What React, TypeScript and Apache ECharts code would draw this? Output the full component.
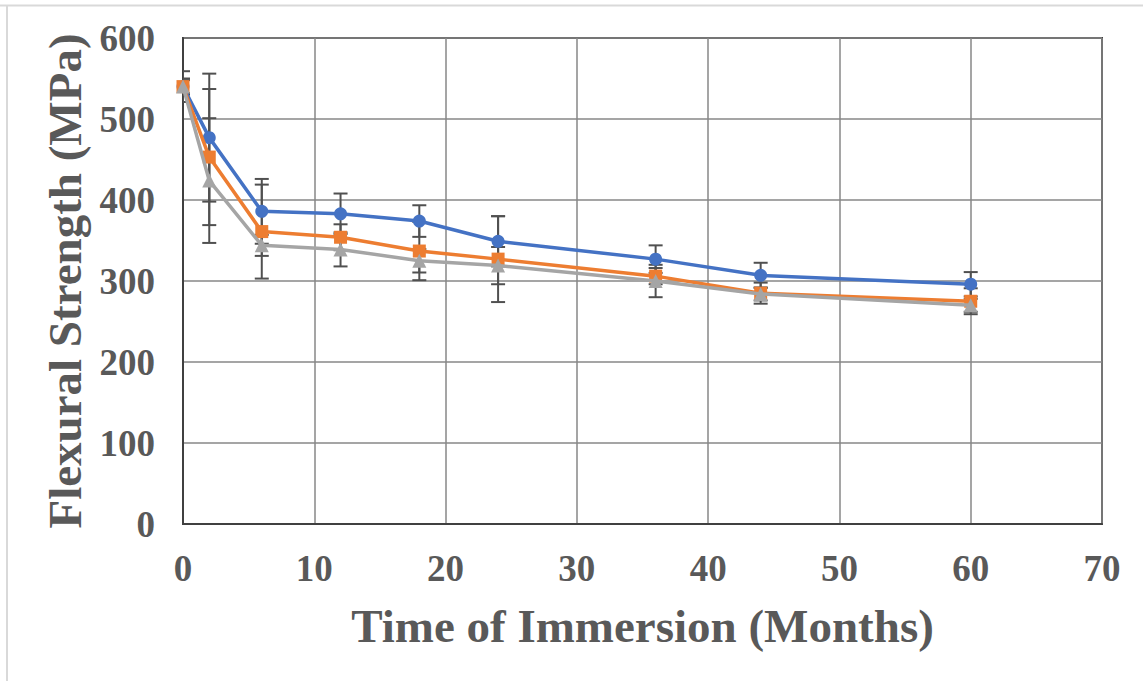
import React, { useEffect, useRef } from "react";
import * as echarts from "echarts";

const months = [0, 2, 6, 12, 18, 24, 36, 44, 60];
const seriesA = [540, 477, 386, 383, 374, 349, 327, 307, 296];
const seriesB = [540, 453, 361, 354, 337, 327, 306, 285, 275];
const seriesC = [540, 424, 344, 339, 325, 319, 300, 284, 270];
const errA = [19, 79, 40, 25, 19.5, 31, 17, 15.5, 15];
const errB = [10, 84, 58, 16, 36, 53, 10, 13, 16];
const errC = [8, 77, 13, 21, 14.5, 23, 20, 8, 8];
const seriesNames = ["Series A", "Series B", "Series C"];
const colors = ["#4472C4", "#ED7D31", "#A5A5A5"];
const symbols = ["circle", "rect", "triangle"];
const symbolSizes = [13, 13, 14];
const xTicks = [0, 70, 10];
const yTicks = [0, 600, 100];
const xTitle = "Time of Immersion (Months)";
const yTitle = "Flexural Strength (MPa)";

const FONT = '"Liberation Serif", "Times New Roman", serif';
const TEXT = "#595959";

export default function App() {
  const ref = useRef<HTMLDivElement>(null);
  useEffect(() => {
    if (!ref.current) return;
    const chart = echarts.init(ref.current, undefined, { renderer: "svg" });
    const values = [seriesA, seriesB, seriesC];
    const errs = [errA, errB, errC];
    const errData: number[][] = [];
    values.forEach((vals, s) => {
      vals.forEach((v, i) => {
        errData.push([months[i], v - errs[s][i], v + errs[s][i]]);
      });
    });
    const lineSeries = values.map((vals, s) => ({
      type: "line",
      name: seriesNames[s],
      data: vals.map((v, i) => [months[i], v]),
      symbol: symbols[s],
      symbolSize: symbolSizes[s],
      showSymbol: true,
      clip: false,
      z: 3 + s,
      lineStyle: { color: colors[s], width: 3.5 },
      itemStyle: { color: colors[s], borderWidth: 0 },
    }));
    chart.setOption({
      animation: false,
      graphic: [
        { type: "line", shape: { x1: 0, y1: 5.5, x2: 1143, y2: 5.5 }, style: { stroke: "#d9d9d9", lineWidth: 2 } },
        { type: "line", shape: { x1: 7, y1: 5, x2: 7, y2: 681 }, style: { stroke: "#d9d9d9", lineWidth: 2 } },
      ],
      grid: {
        left: 183,
        top: 38,
        right: 41,
        bottom: 157,
        show: true,
        borderColor: "#404040",
        borderWidth: 2,
        backgroundColor: "transparent",
      },
      xAxis: {
        type: "value",
        min: xTicks[0],
        max: xTicks[1],
        interval: xTicks[2],
        name: xTitle,
        nameLocation: "middle",
        nameGap: 78,
        nameTextStyle: { fontFamily: FONT, fontWeight: "bold", fontSize: 47, color: TEXT },
        axisLine: { show: true, lineStyle: { color: "#404040", width: 2 } },
        axisTick: { show: false },
        axisLabel: { margin: 26, fontFamily: FONT, fontWeight: "bold", fontSize: 37, color: TEXT },
        splitLine: { show: true, lineStyle: { color: "#878787", width: 1.5 } },
      },
      yAxis: {
        type: "value",
        min: yTicks[0],
        max: yTicks[1],
        interval: yTicks[2],
        name: yTitle,
        nameLocation: "middle",
        nameGap: 84,
        nameTextStyle: { fontFamily: FONT, fontWeight: "bold", fontSize: 47, color: TEXT },
        axisLine: { show: true, lineStyle: { color: "#404040", width: 2 } },
        axisTick: { show: false },
        axisLabel: { margin: 28, fontFamily: FONT, fontWeight: "bold", fontSize: 37, color: TEXT },
        splitLine: { show: true, lineStyle: { color: "#878787", width: 1.5 } },
      },
      series: [
        {
          type: "custom",
          name: "errors",
          data: errData,
          clip: true,
          z: 2,
          encode: { x: 0, y: [1, 2] },
          renderItem: (params: any, api: any) => {
            const x = api.value(0);
            const lo = api.coord([x, api.value(1)]);
            const hi = api.coord([x, api.value(2)]);
            const hw = 7;
            const st = { stroke: "#505050", lineWidth: 2 };
            return {
              type: "group",
              children: [
                { type: "line", shape: { x1: hi[0], y1: hi[1], x2: lo[0], y2: lo[1] }, style: st },
                { type: "line", shape: { x1: hi[0] - hw, y1: hi[1], x2: hi[0] + hw, y2: hi[1] }, style: st },
                { type: "line", shape: { x1: lo[0] - hw, y1: lo[1], x2: lo[0] + hw, y2: lo[1] }, style: st },
              ],
            };
          },
        },
        ...lineSeries,
      ],
    });
    return () => chart.dispose();
  }, []);
  return (
    <div
      ref={ref}
      style={{ position: "absolute", left: 0, top: 0, width: 1143, height: 681, background: "#fff" }}
    />
  );
}
